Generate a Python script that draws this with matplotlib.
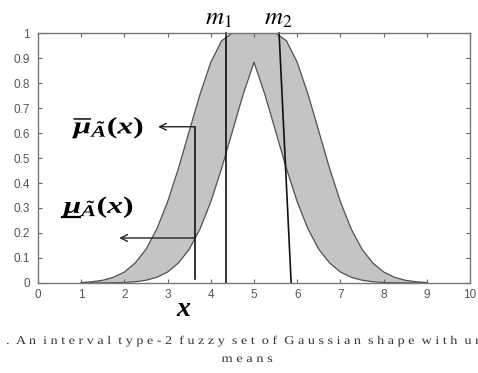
import matplotlib
matplotlib.use('Agg')
import matplotlib.pyplot as plt
from matplotlib.textpath import TextPath
from matplotlib.patches import PathPatch
from matplotlib.font_manager import FontProperties
from matplotlib.transforms import Affine2D, IdentityTransform

# membership values
x = [1.0, 1.25, 1.5, 1.75, 2.0, 2.25, 2.5, 2.75, 3.0, 3.25, 3.5, 3.75, 4.0, 4.25, 4.5, 4.75,
     5.0, 5.25, 5.5, 5.75, 6.0, 6.25, 6.5, 6.75, 7.0, 7.25, 7.5, 7.75, 8.0, 8.25, 8.5, 8.75, 9.0]
upper = [0.002, 0.005, 0.011, 0.023, 0.044, 0.080, 0.135, 0.216, 0.325, 0.458, 0.607, 0.755, 0.883, 0.969, 1.0, 1.0,
         1.0, 1.0, 1.0, 0.969, 0.883, 0.755, 0.607, 0.458, 0.325, 0.216, 0.135, 0.080, 0.044, 0.023, 0.011, 0.005, 0.002]
lower = [0.0, 0.0001, 0.0003, 0.0009, 0.002, 0.005, 0.011, 0.023, 0.044, 0.080, 0.135, 0.216, 0.325, 0.458, 0.607, 0.755,
         0.883, 0.755, 0.607, 0.458, 0.325, 0.216, 0.135, 0.080, 0.044, 0.023, 0.011, 0.005, 0.002, 0.001, 0.0003, 0.0001, 0.0]

# marker lines: m1, m2 (slightly slanted) and the pointer line
m1_x = [4.35, 4.35]
m1_y = [0.0, 1.0]
m2_x = [5.58, 5.86]
m2_y = [1.0, 0.0]
ptr_x = 3.63
ptr_y = [0.015, 0.625]
arrow_upper = (3.63, 0.625, 2.78)
arrow_lower = (3.63, 0.18, 1.88)

xticks = list(range(0, 11))
yticks = [0, 0.1, 0.2, 0.3, 0.4, 0.5, 0.6, 0.7, 0.8, 0.9, 1]
yticklabels = ['0', '0.1', '0.2', '0.3', '0.4', '0.5', '0.6', '0.7', '0.8', '0.9', '1']

caption1 = '.  A n  i n t e r v a l  t y p e - 2  f u z z y  s e t  o f  G a u s s i a n  s h a p e  w i t h  u n'
caption2 = 'm e a n s'

plt.rcParams['mathtext.fontset'] = 'custom'
plt.rcParams['mathtext.it'] = 'Liberation Serif:italic:bold'
plt.rcParams['mathtext.rm'] = 'Liberation Serif:bold'
plt.rcParams['mathtext.bf'] = 'Liberation Serif:italic:bold'


def wide_text(fig, s, xy_px, size, sx, prop, color='black', ha='left'):
    # text drawn as a path so it can be stretched sideways like the scanned original
    tp = TextPath((0, 0), s, size=size * fig.dpi / 72, prop=prop)
    ext = tp.get_extents()
    x0 = {'left': ext.x0, 'center': (ext.x0 + ext.x1) / 2, 'right': ext.x1}[ha]
    tr = Affine2D().translate(-x0, 0).scale(sx, 1).translate(xy_px[0], xy_px[1])
    fig.add_artist(PathPatch(tr.transform_path(tp), facecolor=color, edgecolor='none',
                             lw=0, transform=IdentityTransform()))
    return xy_px[0] - (x0 - ext.x0) * sx, ext


fig = plt.figure(figsize=(4.78, 3.73), dpi=100)
ax = fig.add_axes([0.0795, 0.2413, 0.9038, 0.6702])

ax.fill_between(x, lower, upper, facecolor='#c4c4c4', edgecolor='none')
ax.plot(x, upper, color='#505050', lw=0.9)
ax.plot(x, lower, color='#505050', lw=0.9)

ax.plot(m1_x, m1_y, color='#111111', lw=1.2, clip_on=False)
ax.plot(m2_x, m2_y, color='#111111', lw=1.2, clip_on=False)
ax.plot([ptr_x, ptr_x], ptr_y, color='#111111', lw=1.2)

for (x0, y0, x1) in [arrow_upper, arrow_lower]:
    ax.annotate('', xy=(x1, y0), xytext=(x0, y0),
                arrowprops=dict(arrowstyle='->', color='#222222', lw=1.0,
                                shrinkA=0, shrinkB=0, mutation_scale=12))

ax.set_xlim(0, 10)
ax.set_ylim(0, 1)
ax.set_xticks(xticks)
ax.set_yticks(yticks)
ax.set_yticklabels(yticklabels)
ax.tick_params(direction='in', length=3, width=0.8, color='#666666',
               top=True, right=True, labelsize=8.5, labelcolor='#555555')
ax.tick_params(axis='y', pad=6)
ax.tick_params(axis='x', pad=4)
for lab in ax.get_xticklabels() + ax.get_yticklabels():
    lab.set_family('Liberation Sans')
for sp in ax.spines.values():
    sp.set_color('#777777')
    sp.set_linewidth(1.0)

# annotations
ax.text(4.18, 1.035, r'$m_1$', fontsize=18, math_fontfamily='stix', ha='center', va='baseline')
ax.text(5.55, 1.035, r'$m_2$', fontsize=18, math_fontfamily='stix', ha='center', va='baseline')
ax.text(3.38, -0.10, r'$x$', fontsize=20, ha='center', va='center')

mprop = FontProperties(family='Liberation Serif', weight='bold', style='italic')
wide_text(fig, r'$\overline{\mu}_{\tilde{A}}(x)$', ax.transData.transform((0.79, 0.598)), 17, 1.34, mprop)
left, ext = wide_text(fig, r'$\mu_{\tilde{A}}(x)$', ax.transData.transform((0.56, 0.28)), 17, 1.34, mprop)
ul_y = ax.transData.inverted().transform((0, ax.transData.transform((0, 0.28))[1] - 4))[1]
ul_x1 = ax.transData.inverted().transform((left + 18, 0))[0]
ax.plot([0.56, ul_x1], [ul_y, ul_y], color='black', lw=1.6, clip_on=False)

cprop = FontProperties(family='Liberation Serif')
wide_text(fig, caption1, (7, 373 - 344), 8.5, 1.2, cprop, color='#333333')
wide_text(fig, caption2, (247, 373 - 362), 8.5, 1.22, cprop, color='#333333', ha='center')

fig.savefig('out.png', dpi=100)
